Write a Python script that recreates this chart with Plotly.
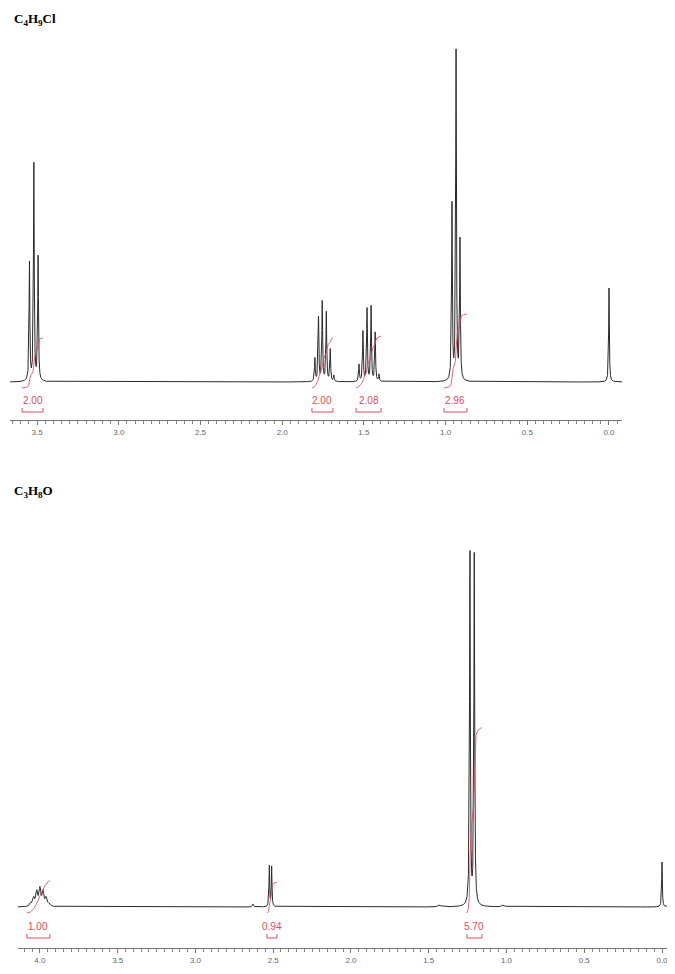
import numpy as np
import plotly.graph_objects as go

# ---------------- data: C4H9Cl (top spectrum) ----------------
top_title = "<b>C<sub>4</sub>H<sub>9</sub>Cl</b>"
top_peak_ppm = [3.547, 3.520, 3.494,
                1.800, 1.778, 1.755, 1.730, 1.706, 1.684,
                1.530, 1.506, 1.481, 1.456, 1.431, 1.408,
                0.961, 0.936, 0.912,
                0.000]
top_peak_int = [119, 217, 124,
                23, 64, 80, 69, 32, 6,
                17, 50, 73, 75, 49, 7,
                177, 329, 140,
                94]
top_peak_w = [0.0028] * 18 + [0.0025]
top_int_start = [3.592, 1.818, 1.548, 1.010]
top_int_end = [3.464, 1.689, 1.395, 0.869]
top_int_value = [2.00, 2.00, 2.08, 2.96]
top_ticks = [3.5, 3.0, 2.5, 2.0, 1.5, 1.0, 0.5, 0.0]

# ---------------- data: C3H8O (bottom spectrum) ----------------
bot_title = "<b>C<sub>3</sub>H<sub>8</sub>O</b>"
bot_peak_ppm = [4.060, 4.040, 4.020, 4.000, 3.980, 3.960, 3.940,
                2.525, 2.510,
                2.630,
                1.235, 1.207,
                1.430, 1.020,
                0.000]
bot_peak_int = [3, 8, 14, 17, 14, 8, 3,
                41, 40,
                3,
                354, 352,
                2, 2,
                45]
bot_peak_w = [0.007] * 7 + [0.0025, 0.0025, 0.004, 0.003, 0.003, 0.01, 0.01, 0.0025]
bot_int_start = [4.084, 2.540, 1.254]
bot_int_end = [3.936, 2.476, 1.158]
bot_int_value = [1.00, 0.94, 5.70]
bot_ticks = [4.0, 3.5, 3.0, 2.5, 2.0, 1.5, 1.0, 0.5, 0.0]

W, H = 675, 974
OFF = 8  # page body margin in the browser
LINE = "#2a2a2a"
RED = "#e04a60"


def px(xp):
    return (xp - OFF) / W


def py(yp):
    return 1 - (yp - OFF) / H


def spectrum(x, centers, heights, widths):
    y = np.zeros_like(x)
    for c, h, w in zip(centers, heights, widths):
        y += h * w * w / ((x - c) ** 2 + w * w)
    return y


def integral_curve(x, y, start, end, value, scale, offset):
    m = (x <= start) & (x >= end)
    xs = x[m][::-1]          # high ppm -> low ppm
    ys = y[m][::-1]
    cum = np.concatenate([[0], np.cumsum(0.5 * (ys[1:] + ys[:-1]) * np.abs(np.diff(xs)))])
    cum = cum / cum[-1]
    return xs, offset + cum * value * scale


fig = go.Figure()

top_rng = [3.666, -0.0796]
bot_rng = [4.141, -0.0836]
panels = [
    dict(xa="x", ya="y", rng=top_rng, peaks=(top_peak_ppm, top_peak_int, top_peak_w),
         ints=(top_int_start, top_int_end, top_int_value), scale=25.0, lab_y=-18, br_y=-30),
    dict(xa="x2", ya="y2", rng=bot_rng, peaks=(bot_peak_ppm, bot_peak_int, bot_peak_w),
         ints=(bot_int_start, bot_int_end, bot_int_value), scale=32.5, lab_y=-19, br_y=-31),
]

shapes = []
annotations = []
for p in panels:
    x = np.arange(p["rng"][1], p["rng"][0], 0.0004)
    y = spectrum(x, *p["peaks"])
    fig.add_trace(go.Scatter(x=x, y=y, mode="lines", xaxis=p["xa"], yaxis=p["ya"],
                             line=dict(color=LINE, width=1), hoverinfo="skip"))
    for s, e, v in zip(*p["ints"]):
        xi, yi = integral_curve(x, y, s, e, v, p["scale"], -6)
        fig.add_trace(go.Scatter(x=xi, y=yi, mode="lines", xaxis=p["xa"], yaxis=p["ya"],
                                 line=dict(color=RED, width=1), opacity=0.85, hoverinfo="skip"))
        by = p["br_y"]
        for (x0, y0, x1, y1) in [(s, by, e, by), (s, by, s, by + 4), (e, by, e, by + 4)]:
            shapes.append(dict(type="line", xref=p["xa"], yref=p["ya"], x0=x0, y0=y0, x1=x1, y1=y1,
                               line=dict(color=RED, width=1)))
        annotations.append(dict(text=f"{v:.2f}", x=(s + e) / 2, y=p["lab_y"], xref=p["xa"], yref=p["ya"],
                                showarrow=False, font=dict(family="Liberation Sans", size=10, color=RED)))

for txt, ypx in [(top_title, 20), (bot_title, 492)]:
    annotations.append(dict(text=txt, x=px(12), y=py(ypx), xref="paper", yref="paper",
                            xanchor="left", yanchor="middle", showarrow=False,
                            font=dict(family="Liberation Serif", size=13, color="black")))

axis_common = dict(showline=True, linecolor="#777", linewidth=1, ticks="outside", ticklen=4,
                   tickcolor="#777", tickwidth=1, tickformat=".1f", showgrid=False, zeroline=False,
                   tickfont=dict(family="Liberation Sans", size=8, color="#666"),
                   minor=dict(dtick=0.05, ticks="outside", ticklen=3, tickcolor="#888", showgrid=False))

fig.update_layout(
    width=W, height=H, margin=dict(l=0, r=0, t=0, b=0),
    paper_bgcolor="white", plot_bgcolor="white", showlegend=False,
    xaxis=dict(domain=[px(10), px(622)], anchor="y", range=top_rng, tickvals=top_ticks, **axis_common),
    yaxis=dict(domain=[py(420), py(40)], range=[-38, 342], visible=False),
    xaxis2=dict(domain=[px(18), px(675)], anchor="y2", range=bot_rng, tickvals=bot_ticks, **axis_common),
    yaxis2=dict(domain=[py(948), py(520)], range=[-41, 387], visible=False),
    shapes=shapes, annotations=annotations,
)

fig.write_html("out.html")
